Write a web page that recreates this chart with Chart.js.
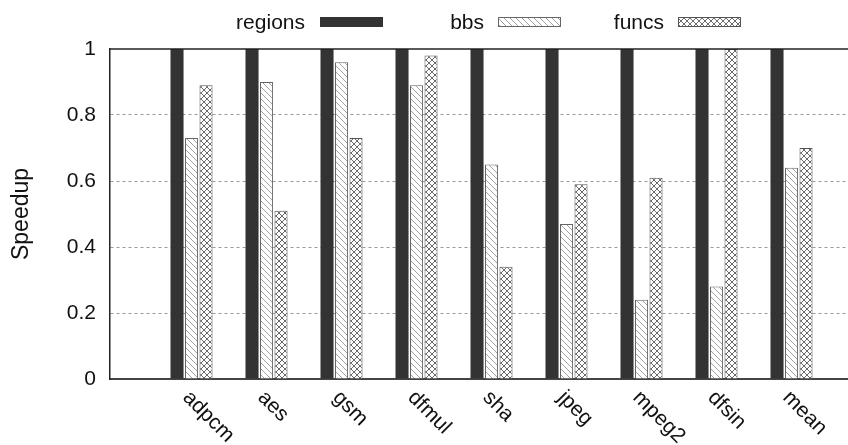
<!DOCTYPE html>
<html>
<head>
<meta charset="utf-8">
<script src="https://cdn.jsdelivr.net/npm/chart.js@4/dist/chart.umd.min.js"></script>
<style>
  body { margin: 0; background: #fff; }
  canvas { display: block; }
</style>
</head>
<body>
<canvas id="chart" width="848" height="445"></canvas>
<script>
const categories = ['adpcm', 'aes', 'gsm', 'dfmul', 'sha', 'jpeg', 'mpeg2', 'dfsin', 'mean'];
const regions = [1, 1, 1, 1, 1, 1, 1, 1, 1];
const bbs = [0.73, 0.90, 0.96, 0.89, 0.65, 0.47, 0.24, 0.28, 0.64];
const funcs = [0.89, 0.51, 0.73, 0.98, 0.34, 0.59, 0.61, 1.0, 0.70];
const yTicks = [0, 0.2, 0.4, 0.6, 0.8, 1];

const FONT = 'Liberation Sans, Arial, sans-serif';

function makePattern(cross, color) {
    const c = document.createElement('canvas');
    c.width = 6;
    c.height = 6;
    const g = c.getContext('2d');
    g.fillStyle = '#fff';
    g.fillRect(0, 0, 6, 6);
    g.strokeStyle = color;
    g.lineWidth = 1;
    g.beginPath();
    for (let k = -6; k <= 6; k += 6) {
        g.moveTo(k, 0);
        g.lineTo(k + 6, 6);
        if (cross) {
            g.moveTo(k, 6);
            g.lineTo(k + 6, 0);
        }
    }
    g.stroke();
    return g.createPattern(c, 'repeat');
}

const ctx = document.getElementById('chart').getContext('2d');
const hatch = makePattern(false, '#a0a0a0');
const crossHatch = makePattern(true, '#6a6a6a');

const toPoints = arr => arr.map((v, i) => ({ x: i, y: v }));

// legend drawn with text left of the swatch, like the original
const legendPlugin = {
    id: 'sideLegend',
    afterDraw(chart) {
        const c = chart.ctx;
        const items = [[305, 320], [484, 498], [664, 678]];
        c.save();
        c.font = '21px ' + FONT;
        c.textAlign = 'right';
        c.textBaseline = 'alphabetic';
        chart.data.datasets.forEach((ds, i) => {
            const [tx, bx] = items[i];
            c.fillStyle = '#111';
            c.fillText(ds.label, tx, 29);
            c.fillStyle = ds.backgroundColor;
            c.fillRect(bx, 17, 63, 10);
            c.strokeStyle = ds.borderColor || ds.backgroundColor;
            c.lineWidth = 1;
            c.strokeRect(bx + 0.5, 17.5, 62, 9);
        });
        c.restore();
    }
};

// frame on top of the bars and rotated category labels
const framePlugin = {
    id: 'frame',
    afterDatasetsDraw(chart) {
        const { ctx: c, chartArea: a } = chart;
        c.save();
        c.strokeStyle = '#222';
        c.lineWidth = 1.5;
        c.beginPath();
        c.moveTo(a.left, a.top);
        c.lineTo(a.right, a.top);
        c.stroke();
        c.restore();
    },
    afterDraw(chart) {
        const c = chart.ctx;
        const xs = chart.scales.x;
        const bottom = chart.scales.y.bottom;
        c.save();
        c.font = '21px ' + FONT;
        c.fillStyle = '#111';
        c.textAlign = 'left';
        c.textBaseline = 'top';
        categories.forEach((name, i) => {
            c.save();
            c.translate(xs.getPixelForValue(i) + 2, bottom + 8);
            c.rotate(Math.PI / 4);
            c.fillText(name, 0, 0);
            c.restore();
        });
        c.restore();
    }
};

new Chart(ctx, {
    type: 'bar',
    data: {
        datasets: [
            {
                label: 'regions',
                data: toPoints(regions),
                backgroundColor: '#333333',
                borderColor: '#333333',
                borderWidth: 0
            },
            {
                label: 'bbs',
                data: toPoints(bbs),
                backgroundColor: hatch,
                borderColor: '#666666',
                borderWidth: 1
            },
            {
                label: 'funcs',
                data: toPoints(funcs),
                backgroundColor: crossHatch,
                borderColor: '#555555',
                borderWidth: 1
            }
        ]
    },
    options: {
        responsive: false,
        animation: false,
        categoryPercentage: 0.58,
        barPercentage: 0.9,
        layout: { padding: { top: 49, right: 0, bottom: 58, left: 0 } },
        plugins: {
            legend: { display: false },
            tooltip: { enabled: false }
        },
        scales: {
            x: {
                type: 'linear',
                offset: false,
                min: -1.087,
                max: 8.753,
                afterBuildTicks: s => { s.ticks = categories.map((c, i) => ({ value: i })); },
                grid: { display: false, offset: false },
                ticks: { display: false },
                border: { color: '#444', width: 2 }
            },
            y: {
                min: 0,
                max: 1,
                afterFit: s => { s.width = 110; },
                afterBuildTicks: s => { s.ticks = yTicks.map(v => ({ value: v })); },
                ticks: {
                    padding: 14,
                    color: '#111',
                    font: { family: FONT, size: 21 },
                    callback: v => String(Math.round(v * 10) / 10)
                },
                grid: {
                    drawTicks: false,
                    color: c => (c.tick && (c.tick.value === 0 || c.tick.value === 1)) ? 'rgba(0,0,0,0)' : '#999',
                    lineWidth: 1
                },
                border: { color: '#222', width: 1.5, dash: [3, 3] },
                title: {
                    display: true,
                    text: 'Speedup',
                    color: '#111',
                    font: { family: FONT, size: 23 },
                    padding: { top: 8, bottom: 0 }
                }
            }
        }
    },
    plugins: [legendPlugin, framePlugin]
});
</script>
</body>
</html>
